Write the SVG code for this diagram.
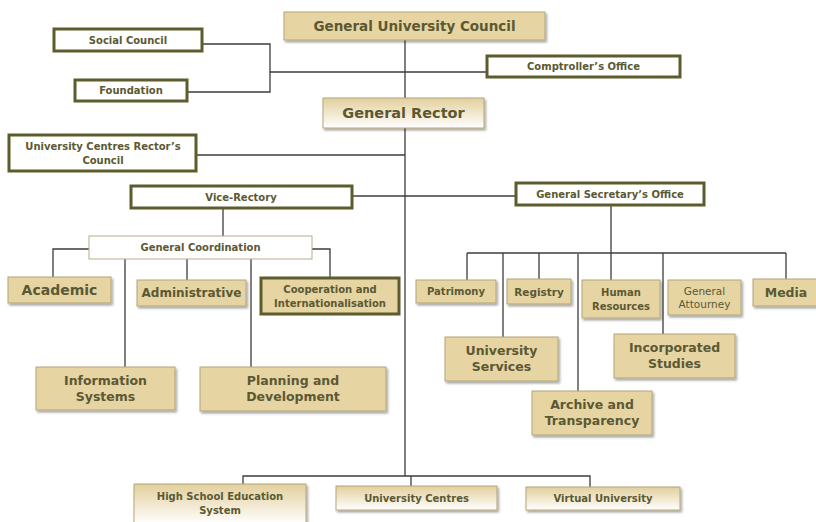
<svg xmlns="http://www.w3.org/2000/svg" width="816" height="522" viewBox="0 0 816 522">
<defs>
<linearGradient id="grad" x1="0" y1="0" x2="0" y2="1">
<stop offset="0" stop-color="#e2cf9c"/>
<stop offset="1" stop-color="#ffffff"/>
</linearGradient>
<filter id="sh" x="-10%" y="-10%" width="130%" height="140%">
<feDropShadow dx="1.5" dy="2" stdDeviation="1" flood-color="#000" flood-opacity="0.35"/>
</filter>
</defs>
<style>
text{font-family:"DejaVu Sans","Liberation Sans",sans-serif;font-weight:bold;fill:#5b5933;text-anchor:middle;dominant-baseline:central}
text.n{font-weight:normal}
.tan{fill:#e6d4a3;stroke:#b3a67a;stroke-width:1;filter:url(#sh)}
.grad{fill:url(#grad);stroke:#b3a67a;stroke-width:1;filter:url(#sh)}
.wb{fill:#fff;stroke:#5d5c2c;stroke-width:3}
.wt{fill:#fff;stroke:#b8ad85;stroke-width:1}
.tb{fill:#e6d4a3;stroke:#5d5c2c;stroke-width:3}
.c{fill:none;stroke:#3c3c3c;stroke-width:1.3}
</style>
<g id="connectors">
<path class="c" d="M405 40 V476"/>
<path class="c" d="M203 44 H270 V92 H188"/>
<path class="c" d="M270 72 H486"/>
<path class="c" d="M197 155 H405"/>
<path class="c" d="M353 196 H515"/>
<path class="c" d="M223 209 V236"/>
<path class="c" d="M89 249 H53 V277"/>
<path class="c" d="M312 249 H330 V277"/>
<path class="c" d="M125 259 V367"/>
<path class="c" d="M187 259 V280"/>
<path class="c" d="M251 259 V367"/>
<path class="c" d="M611 206 V280"/>
<path class="c" d="M467 253 H786"/>
<path class="c" d="M467 253 V280"/>
<path class="c" d="M503 253 V337"/>
<path class="c" d="M539 253 V279"/>
<path class="c" d="M578 254 V391"/>
<path class="c" d="M663 253 V334"/>
<path class="c" d="M786 253 V279"/>
<path class="c" d="M243 484 V476 H590 V487"/>
<path class="c" d="M411 476 V486"/>
</g>
<g id="general-university-council"><rect class="tan" x="284" y="12" width="261" height="28"/><text x="414.5" y="26" font-size="13.5">General University Council</text></g>
<g id="social-council"><rect class="wb" x="54" y="29" width="148" height="22"/><text x="128" y="40" font-size="10">Social Council</text></g>
<g id="foundation"><rect class="wb" x="75" y="80" width="112" height="21"/><text x="131" y="90.5" font-size="10">Foundation</text></g>
<g id="comptrollers-office"><rect class="wb" x="487" y="56" width="193" height="21"/><text x="583.5" y="66.5" font-size="10">Comptroller’s Office</text></g>
<g id="general-rector"><rect class="grad" x="323" y="98" width="161" height="30"/><text x="403.5" y="113" font-size="14.5">General Rector</text></g>
<g id="university-centres-rectors-council"><rect class="wb" x="9" y="135" width="187" height="36"/><text x="103" y="146" font-size="10">University Centres Rector’s</text><text x="103" y="160" font-size="10">Council</text></g>
<g id="vice-rectory"><rect class="wb" x="131" y="186" width="221" height="22"/><text x="241" y="197" font-size="10">Vice-Rectory</text></g>
<g id="general-secretarys-office"><rect class="wb" x="516" y="183" width="188" height="22"/><text x="610" y="194" font-size="10">General Secretary’s Office</text></g>
<g id="general-coordination"><rect class="wt" x="89" y="236" width="223" height="23"/><text x="200.5" y="247.5" font-size="10">General Coordination</text></g>
<g id="academic"><rect class="tan" x="8" y="277" width="103" height="26"/><text x="59.5" y="290" font-size="14">Academic</text></g>
<g id="administrative"><rect class="tan" x="137" y="280" width="109" height="26"/><text x="191.5" y="293" font-size="12">Administrative</text></g>
<g id="cooperation"><rect class="tb" x="261" y="278" width="138" height="36"/><text x="330" y="289" font-size="10">Cooperation and</text><text x="330" y="303" font-size="10">Internationalisation</text></g>
<g id="information-systems"><rect class="tan" x="36" y="367" width="139" height="43"/><text x="105.5" y="380" font-size="12.5">Information</text><text x="105.5" y="396" font-size="12.5">Systems</text></g>
<g id="planning-and-development"><rect class="tan" x="200" y="367" width="186" height="44"/><text x="293" y="380" font-size="12.5">Planning and</text><text x="293" y="396" font-size="12.5">Development</text></g>
<g id="patrimony"><rect class="tan" x="416" y="280" width="80" height="23"/><text x="456" y="291.5" font-size="10">Patrimony</text></g>
<g id="registry"><rect class="tan" x="507" y="279" width="64" height="25"/><text x="539" y="291.5" font-size="10.5">Registry</text></g>
<g id="human-resources"><rect class="tan" x="582" y="280" width="78" height="38"/><text x="621" y="292" font-size="10">Human</text><text x="621" y="306" font-size="10">Resources</text></g>
<g id="general-attourney"><rect class="tan" x="668" y="280" width="73" height="35"/><text class="n" x="704.5" y="291" font-size="10.5">General</text><text class="n" x="704.5" y="304" font-size="10.5">Attourney</text></g>
<g id="media"><rect class="tan" x="753" y="279" width="66" height="27"/><text x="786" y="292.5" font-size="12.5">Media</text></g>
<g id="university-services"><rect class="tan" x="445" y="337" width="113" height="44"/><text x="501.5" y="350" font-size="12.5">University</text><text x="501.5" y="366" font-size="12.5">Services</text></g>
<g id="incorporated-studies"><rect class="tan" x="614" y="334" width="121" height="44"/><text x="674.5" y="347" font-size="12.5">Incorporated</text><text x="674.5" y="363" font-size="12.5">Studies</text></g>
<g id="archive-and-transparency"><rect class="tan" x="532" y="391" width="120" height="44"/><text x="592" y="404" font-size="12.5">Archive and</text><text x="592" y="420" font-size="12.5">Transparency</text></g>
<g id="high-school-education-system"><rect class="grad" x="134" y="484" width="172" height="40"/><text x="220" y="496" font-size="10">High School Education</text><text x="220" y="510" font-size="10">System</text></g>
<g id="university-centres"><rect class="grad" x="336" y="486" width="161" height="24"/><text x="416.5" y="498" font-size="10">University Centres</text></g>
<g id="virtual-university"><rect class="grad" x="526" y="487" width="154" height="23"/><text x="603" y="498.5" font-size="10">Virtual University</text></g>
</svg>
